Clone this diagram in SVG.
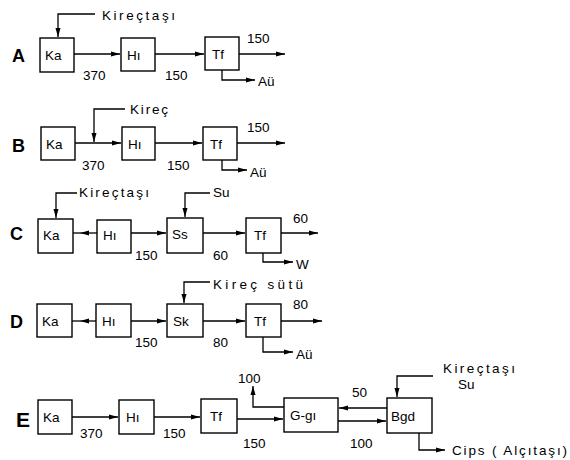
<svg xmlns="http://www.w3.org/2000/svg" width="570" height="460" viewBox="0 0 570 460">
<style>
.box{fill:#fff;stroke:#000;stroke-width:1.4}
.ln{fill:none;stroke:#000;stroke-width:1.3}
.ar{marker-end:url(#ah)}
text{font-family:"Liberation Sans","DejaVu Sans",sans-serif;font-size:13.5px;fill:#000}
.row{font-size:18px;font-weight:bold}
</style>
<defs>
<marker id="ah" markerUnits="userSpaceOnUse" markerWidth="10" markerHeight="6" refX="9" refY="3" orient="auto">
<path d="M0,0.5 L9,3 L0,5.5 z" fill="#000"/>
</marker>
</defs>
<rect width="570" height="460" fill="#fff"/>
<g id="connectors">
<!-- A -->
<path class="ln ar" d="M95,14 H58 V37"/>
<path class="ln ar" d="M74,54 H120"/>
<path class="ln ar" d="M155,54 H204"/>
<path class="ln ar" d="M239,54 H285"/>
<path class="ln ar" d="M222,70 V80 H255"/>
<!-- B -->
<path class="ln ar" d="M125,109 H94 V142"/>
<path class="ln ar" d="M75,143 H121"/>
<path class="ln ar" d="M155,143 H202"/>
<path class="ln ar" d="M237,143 H285"/>
<path class="ln ar" d="M222,160 V170 H247"/>
<!-- C -->
<path class="ln ar" d="M77,193 H56 V218"/>
<path class="ln ar" d="M210,193 H185 V217"/>
<path class="ln ar" d="M97,233 H80"/>
<path class="ln" d="M80,233 H73"/>
<path class="ln ar" d="M131,233 H166"/>
<path class="ln ar" d="M203,233 H245"/>
<path class="ln ar" d="M281,233 H318"/>
<path class="ln ar" d="M263,253 V262 H293"/>
<!-- D -->
<path class="ln ar" d="M210,282 H184 V303"/>
<path class="ln ar" d="M96,321 H80"/>
<path class="ln" d="M80,321 H72"/>
<path class="ln ar" d="M131,321 H166"/>
<path class="ln ar" d="M203,321 H245"/>
<path class="ln ar" d="M281,321 H322"/>
<path class="ln ar" d="M263,337 V352 H293"/>
<!-- E -->
<path class="ln ar" d="M72,417 H118"/>
<path class="ln ar" d="M154,417 H200"/>
<path class="ln ar" d="M237,419 H283"/>
<path class="ln ar" d="M284,407 H253 V386"/>
<path class="ln ar" d="M387,408 H339"/>
<path class="ln ar" d="M338,421 H386"/>
<path class="ln ar" d="M433,376 H397 V397"/>
<path class="ln ar" d="M419,433 V450 H445"/>
</g>
<g id="rowA">
<text class="row" x="12" y="62">A</text>
<g id="A-Ka"><rect class="box" x="40" y="38" width="34" height="34"/><text x="45" y="60">Ka</text></g>
<g id="A-Hi"><rect class="box" x="121" y="38" width="34" height="33"/><text x="127" y="60">Hı</text></g>
<g id="A-Tf"><rect class="box" x="205" y="37" width="34" height="33"/><text x="212" y="59">Tf</text></g>
<text x="102" y="20" textLength="73" lengthAdjust="spacing">Kireçtaşı</text>
<text x="83" y="80">370</text>
<text x="165" y="80">150</text>
<text x="247" y="43">150</text>
<text x="258" y="86">Aü</text>
</g>
<g id="rowB">
<text class="row" x="12" y="152">B</text>
<g id="B-Ka"><rect class="box" x="41" y="127" width="34" height="33"/><text x="46" y="149">Ka</text></g>
<g id="B-Hi"><rect class="box" x="122" y="127" width="33" height="33"/><text x="128" y="149">Hı</text></g>
<g id="B-Tf"><rect class="box" x="203" y="127" width="34" height="33"/><text x="210" y="149">Tf</text></g>
<text x="130" y="114" textLength="38" lengthAdjust="spacing">Kireç</text>
<text x="82" y="170">370</text>
<text x="167" y="170">150</text>
<text x="247" y="132">150</text>
<text x="250" y="177">Aü</text>
</g>
<g id="rowC">
<text class="row" x="10" y="240">C</text>
<g id="C-Ka"><rect class="box" x="38" y="219" width="35" height="34"/><text x="43" y="240">Ka</text></g>
<g id="C-Hi"><rect class="box" x="97" y="220" width="34" height="33"/><text x="103" y="240">Hı</text></g>
<g id="C-Ss"><rect class="box" x="167" y="218" width="36" height="35"/><text x="172" y="239">Ss</text></g>
<g id="C-Tf"><rect class="box" x="246" y="218" width="35" height="35"/><text x="254" y="240">Tf</text></g>
<text x="79" y="197" textLength="70" lengthAdjust="spacing">Kireçtaşı</text>
<text x="213" y="197">Su</text>
<text x="135" y="260">150</text>
<text x="213" y="260">60</text>
<text x="293" y="223">60</text>
<text x="296" y="269">W</text>
</g>
<g id="rowD">
<text class="row" x="10" y="328">D</text>
<g id="D-Ka"><rect class="box" x="37" y="304" width="35" height="33"/><text x="42" y="326">Ka</text></g>
<g id="D-Hi"><rect class="box" x="96" y="304" width="35" height="33"/><text x="102" y="326">Hı</text></g>
<g id="D-Sk"><rect class="box" x="167" y="304" width="36" height="33"/><text x="173" y="326">Sk</text></g>
<g id="D-Tf"><rect class="box" x="246" y="304" width="35" height="33"/><text x="254" y="326">Tf</text></g>
<text x="213" y="289" textLength="90" lengthAdjust="spacing">Kireç  sütü</text>
<text x="135" y="347">150</text>
<text x="213" y="347">80</text>
<text x="293" y="309">80</text>
<text x="296" y="359">Aü</text>
</g>
<g id="rowE">
<text class="row" x="16" y="427" style="font-size:21px">E</text>
<g id="E-Ka"><rect class="box" x="38" y="400" width="34" height="34"/><text x="43" y="422">Ka</text></g>
<g id="E-Hi"><rect class="box" x="119" y="400" width="35" height="34"/><text x="126" y="422">Hı</text></g>
<g id="E-Tf"><rect class="box" x="201" y="399" width="36" height="34"/><text x="210" y="421">Tf</text></g>
<g id="E-Ggi"><rect class="box" x="284" y="398" width="54" height="34"/><text x="290" y="420">G-gı</text></g>
<g id="E-Bgd"><rect class="box" x="387" y="398" width="45" height="35"/><text x="391" y="421">Bgd</text></g>
<text x="443" y="373" textLength="72" lengthAdjust="spacing">Kireçtaşı</text>
<text x="458" y="389">Su</text>
<text x="452" y="455" textLength="115" lengthAdjust="spacing">Cips ( Alçıtaşı)</text>
<text x="80" y="438">370</text>
<text x="163" y="438">150</text>
<text x="243" y="448">150</text>
<text x="238" y="383">100</text>
<text x="352" y="397">50</text>
<text x="350" y="448">100</text>
</g>
</svg>
